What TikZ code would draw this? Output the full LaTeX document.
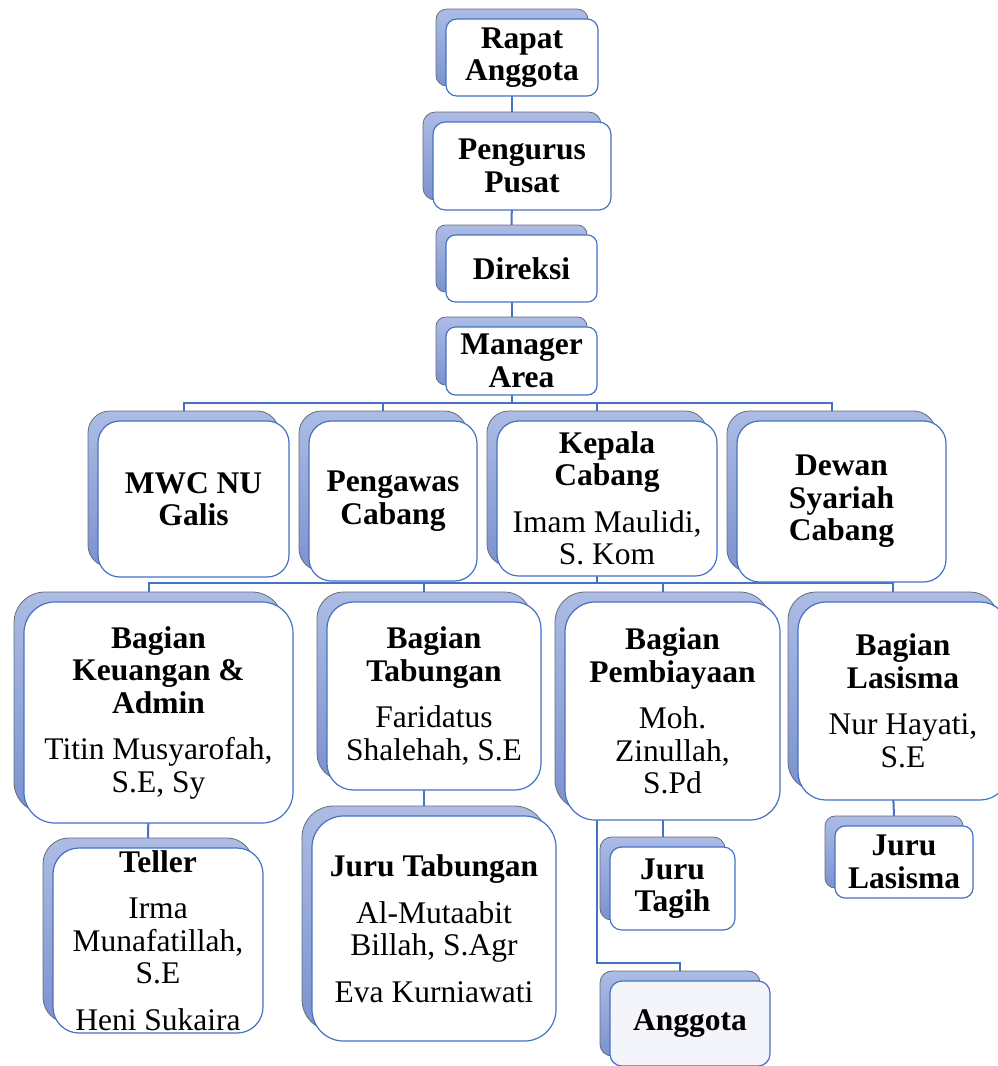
\documentclass[tikz,border=0pt]{standalone}
\usepackage{fontspec}
\setmainfont{Liberation Serif}
\usetikzlibrary{calc,backgrounds}
\definecolor{lineblue}{RGB}{68,114,196}
\definecolor{backtop}{RGB}{172,188,228}
\definecolor{backbot}{RGB}{124,146,207}
\definecolor{backedge}{RGB}{105,108,118}
\definecolor{anggotafill}{RGB}{244,245,250}
\tikzset{
 backbox/.style={draw=backedge, line width=0.8pt, top color=backtop, bottom color=backbot, inner sep=0pt, outer sep=0pt},
 frontbox/.style={draw=lineblue, line width=1.2pt, fill=white, inner sep=0pt, outer sep=0pt, align=flush center, font=\fontsize{31.5}{32.5}\selectfont\bfseries},
 conn/.style={draw=lineblue, line width=2pt},
}
\newcommand\orgbox[7][]{%
 \pgfmathsetmacro\bw{#5-#3}%
 \pgfmathsetmacro\bh{#6-#4}%
 \pgfmathsetmacro\br{0.14*min(\bw,\bh)}%
 \pgfmathsetmacro\tw{\bw-4}%
 \node[backbox, minimum width=\bw pt, minimum height=\bh pt, rounded corners=\br pt] (#2B) at ({(#3+#5)/2-10},{(#4+#6)/2-10}) {};
 \node[frontbox, minimum width=\bw pt, minimum height=\bh pt, rounded corners=\br pt, text width=\tw pt, #1] (#2) at ({(#3+#5)/2},{(#4+#6)/2}) {#7};
}
\begin{document}
\begin{tikzpicture}[x=1pt,y=-1pt]
\useasboundingbox (0,0) rectangle (997,1066);
\orgbox{rapat}{446}{19}{598}{96}{Rapat\\Anggota}
\orgbox{pengurus}{433}{122}{611}{210}{Pengurus\\Pusat}
\orgbox{direksi}{446}{235}{597}{302}{Direksi}
\orgbox{manager}{446}{327}{597}{395}{Manager\\Area}
\orgbox{mwc}{98}{421}{289}{577}{MWC NU\\Galis}
\orgbox{pengawas}{309}{421}{477}{581}{Pengawas\\Cabang}
\orgbox{kepala}{497}{421}{717}{576}{Kepala\\Cabang\\[14pt]\mdseries Imam Maulidi,\\S. Kom}
\orgbox{dewan}{737}{421}{946}{582}{Dewan\\Syariah\\Cabang}
\orgbox{keuangan}{24}{602}{293}{823}{Bagian\\Keuangan \&\\Admin\\[14pt]\mdseries Titin Musyarofah,\\S.E, Sy}
\orgbox{tabungan}{327}{602}{541}{790}{Bagian\\Tabungan\\[14pt]\mdseries Faridatus\\Shalehah, S.E}
\orgbox{pembiayaan}{565}{602}{780}{820}{Bagian\\Pembiayaan\\[14pt]\mdseries Moh.\\Zinullah,\\S.Pd}
\orgbox{lasisma}{798}{602}{1008}{800}{Bagian\\Lasisma\\[14pt]\mdseries Nur Hayati,\\S.E}
\orgbox{teller}{53}{848}{263}{1033}{Teller\\[14pt]\mdseries Irma\\Munafatillah,\\S.E\\[14pt]Heni Sukaira}
\orgbox{jtabungan}{312}{816}{556}{1041}{Juru Tabungan\\[14pt]\mdseries Al-Mutaabit\\Billah, S.Agr\\[14pt]Eva Kurniawati}
\orgbox{jtagih}{610}{847}{735}{930}{Juru\\Tagih}
\orgbox[fill=anggotafill]{anggota}{610}{981}{770}{1066}{Anggota}
\orgbox{jlasisma}{835}{826}{973}{898}{Juru\\Lasisma}
\begin{scope}[on background layer]
\draw[conn] (rapatB.south) -- (pengurusB.north);
\draw[conn] (pengurusB.south) -- (direksiB.north);
\draw[conn] (direksiB.south) -- (managerB.north);
\foreach \nm in {mwc,pengawas,kepala,dewan}
  \draw[conn] (managerB.south) |- ($(\nm B.north)+(0,-8)$) -- (\nm B.north);
\foreach \nm in {keuangan,tabungan,pembiayaan,lasisma}
  \draw[conn] (kepalaB.south) |- ($(\nm B.north)+(0,-9)$) -- (\nm B.north);
\draw[conn] (keuanganB.south) -- (tellerB.north);
\draw[conn] (tabunganB.south) -- (jtabunganB.north);
\draw[conn] (pembiayaanB.south) -- (jtagihB.north);
\draw[conn] (lasismaB.south) -- (jlasismaB.north);
\draw[conn] ($(pembiayaanB.south west)+(42,0)$) |- ($(anggotaB.north)+(0,-8)$) -- (anggotaB.north);
\end{scope}
\end{tikzpicture}
\end{document}
